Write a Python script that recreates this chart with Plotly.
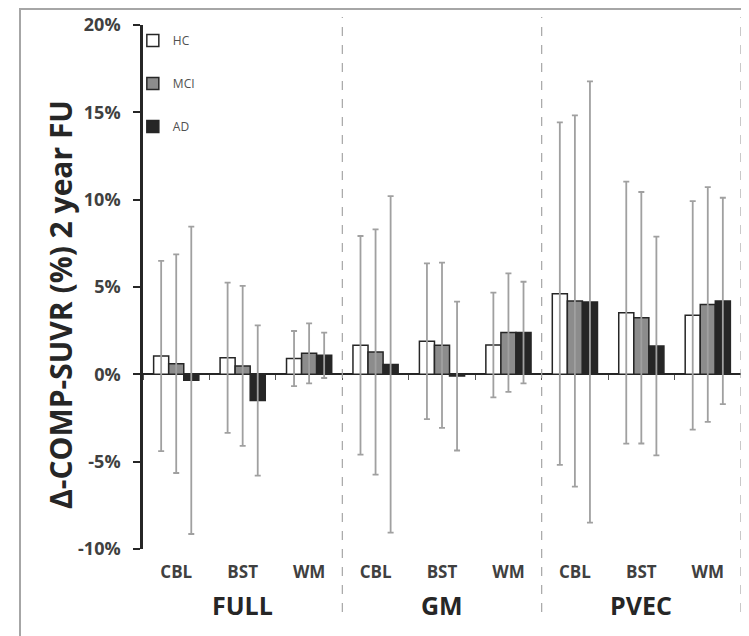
import plotly.graph_objects as go

# ---- data ----
groups = ["FULL", "GM", "PVEC"]
regions = ["CBL", "BST", "WM"]
series_names = ["HC", "MCI", "AD"]

hc_mean = [1.05, 0.95, 0.90, 1.66, 1.89, 1.68, 4.62, 3.53, 3.38]
hc_sd = [5.45, 4.30, 1.58, 6.26, 4.46, 3.00, 9.80, 7.50, 6.54]
mci_mean = [0.61, 0.48, 1.20, 1.28, 1.66, 2.39, 4.20, 3.24, 4.00]
mci_sd = [6.26, 4.58, 1.72, 7.02, 4.73, 3.39, 10.63, 7.20, 6.72]
ad_mean = [-0.34, -1.50, 1.09, 0.57, -0.10, 2.39, 4.14, 1.62, 4.20]
ad_sd = [8.80, 4.30, 1.30, 9.63, 4.26, 2.91, 12.63, 6.26, 5.91]

y_ticks = [-10, -5, 0, 5, 10, 15, 20]
y_min, y_max = -10, 20

# ---- derived ----
n_cat = len(groups) * len(regions)
xpos = list(range(n_cat))
tick_text = regions * len(groups)
boundaries = [i - 0.5 for i in range(n_cat + 1)]

# page body has an 8px margin; compensate so the figure lands where the reference is
OFF = 8
W, H = 749 - OFF, 636 - OFF
ML, MR, MT, MB = 143 - OFF, 8, 25 - OFF, 87
plot_w = W - ML - MR
plot_h = H - MT - MB

def py_paper(ref_py):
    return (H - MB - (ref_py - OFF)) / plot_h

def px_paper(ref_px):
    return ((ref_px - OFF) - ML) / plot_w

FONT = "Open Sans"
fills = ["#ffffff", "#8c8c8c", "#262626"]
means = [hc_mean, mci_mean, ad_mean]
sds = [hc_sd, mci_sd, ad_sd]

fig = go.Figure()
for k, name in enumerate(series_names):
    fig.add_trace(go.Bar(
        x=xpos, y=means[k], name=name,
        marker=dict(color=fills[k], line=dict(color="#262626", width=1.5)),
        error_y=dict(type="data", array=sds[k], visible=True,
                     color="#a0a0a0", thickness=1.8, width=3),
        legendgroup=name,
    ))

# invisible trace to host the zero-line tick axis
fig.add_trace(go.Scatter(x=[], y=[], xaxis="x2", showlegend=False, hoverinfo="skip"))

zero_frac = (0 - y_min) / (y_max - y_min)

fig.update_layout(
    width=W, height=H,
    margin=dict(l=ML, r=MR, t=MT, b=MB, autoexpand=False),
    paper_bgcolor="white", plot_bgcolor="white",
    barmode="group", bargap=0.32, bargroupgap=0,
    font=dict(family=FONT, color="#404040"),
    showlegend=True,
    legend=dict(x=-0.017, y=py_paper(26), xanchor="left", yanchor="top",
                font=dict(size=12, color="#505050", family=FONT),
                traceorder="grouped", tracegroupgap=24,
                bgcolor="rgba(0,0,0,0)", itemwidth=30),
    xaxis=dict(range=[-0.5, n_cat - 0.5], tickvals=xpos, ticktext=tick_text,
               ticks="", showline=False, showgrid=False, zeroline=False,
               tickfont=dict(size=17, family=FONT, color="#404040", weight="bold"),
               ticklabelstandoff=11),
    xaxis2=dict(overlaying="x", matches="x", anchor="free", position=zero_frac,
                side="bottom", range=[-0.5, n_cat - 0.5], tickvals=boundaries,
                ticks="outside", ticklen=5, tickwidth=1, tickcolor="#555",
                showticklabels=False, showline=False, showgrid=False, zeroline=False),
    yaxis=dict(range=[y_min, y_max], tickvals=y_ticks,
               ticktext=[f"{v}%" for v in y_ticks],
               ticks="outside", ticklen=7, tickwidth=2, tickcolor="#262626",
               showline=True, linecolor="#262626", linewidth=2.5,
               showgrid=False, zeroline=True, zerolinecolor="#262626", zerolinewidth=1.5,
               tickfont=dict(size=18, family=FONT, color="#404040", weight="bold"),
               ticklabelstandoff=9),
)

shapes = []
# dashed separators between groups (and at the right end)
for g in range(1, len(groups) + 1):
    xb = g * len(regions) / n_cat
    shapes.append(dict(type="line", xref="paper", yref="paper",
                       x0=xb, x1=xb, y0=py_paper(612), y1=py_paper(17),
                       line=dict(color="#a6a6a6", width=1.2, dash="dash")))
# outer frame
shapes.append(dict(type="rect", xref="paper", yref="paper",
                   x0=px_paper(20), x1=px_paper(747),
                   y0=py_paper(660), y1=py_paper(9),
                   line=dict(color="#a6a6a6", width=2), fillcolor="rgba(0,0,0,0)"))
fig.update_layout(shapes=shapes)

annotations = []
for g, name in enumerate(groups):
    xc = (g * len(regions) + len(regions) / 2) / n_cat
    annotations.append(dict(text=name, xref="paper", yref="paper", x=xc,
                            y=py_paper(605), showarrow=False,
                            xanchor="center", yanchor="middle",
                            font=dict(size=25, family=FONT, color="#262626", weight="bold")))
annotations.append(dict(text="Δ-COMP-SUVR (%) 2 year FU", xref="paper", yref="paper",
                        x=px_paper(60), y=py_paper(305), textangle=-90,
                        showarrow=False, xanchor="center", yanchor="middle",
                        font=dict(size=30, family=FONT, color="#262626", weight="bold")))
fig.update_layout(annotations=annotations)

fig.write_html("out.html")
